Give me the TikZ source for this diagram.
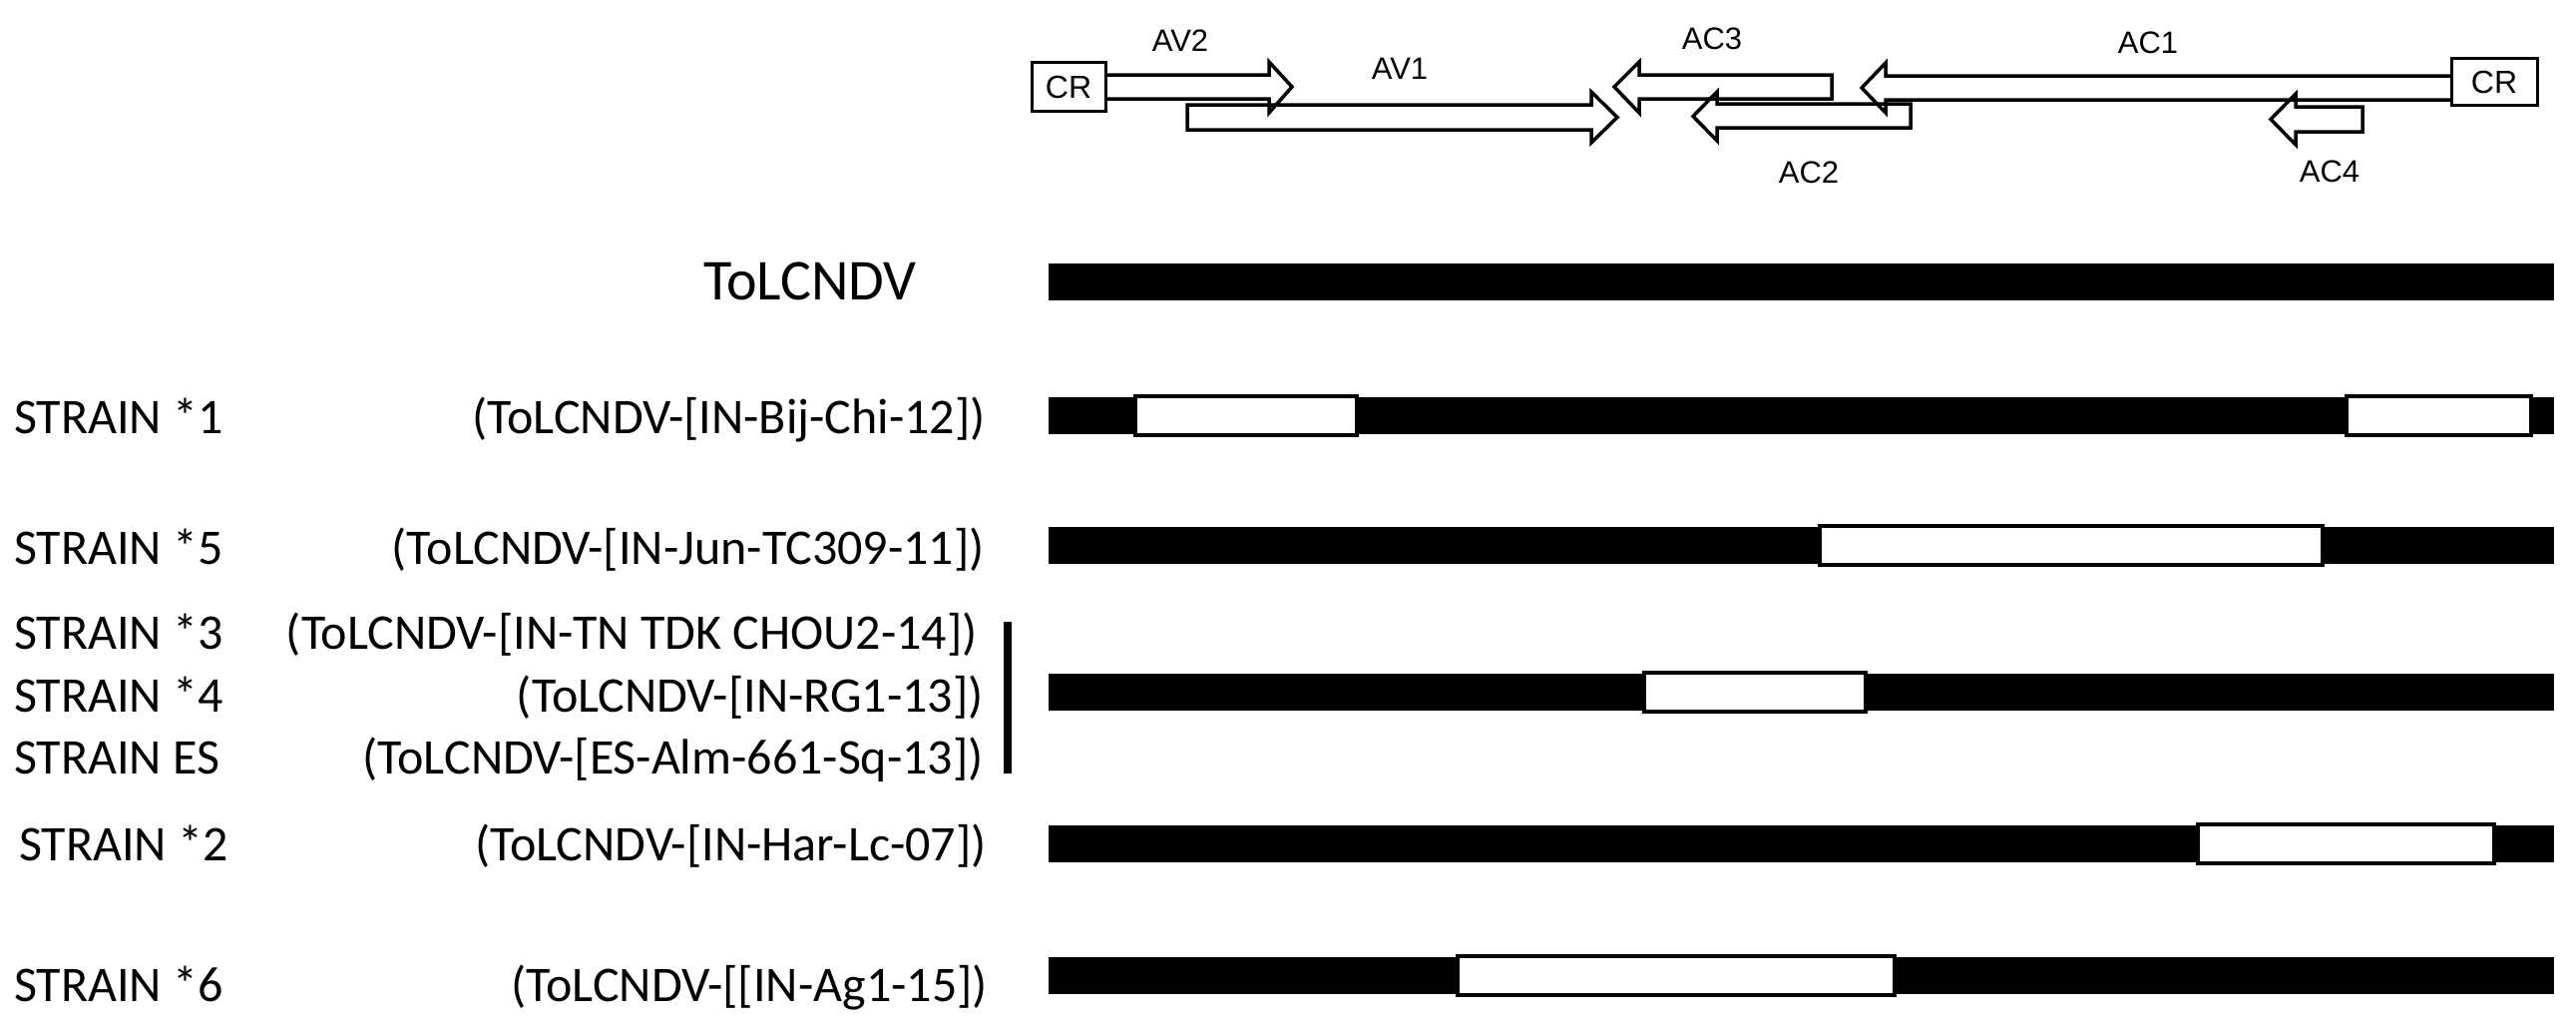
\documentclass[tikz,border=0pt]{standalone}
\usepackage{fontspec}
\setmainfont{Carlito}
\newfontfamily\arialf{Liberation Sans}
\begin{document}
\begin{tikzpicture}[x=1pt,y=-1pt,
  bar/.style={fill=black},
  gapbox/.style={fill=white,draw=black,line width=4pt},
  gene/.style={draw=black,line width=3.5pt,line join=miter},
  lbl/.style={font=\fontsize{31}{36}\selectfont\arialf,inner sep=0pt,anchor=base},
  strain/.style={font=\fontsize{50}{60}\selectfont,inner sep=0pt,anchor=base west},
  isolate/.style={font=\fontsize{50}{60}\selectfont,inner sep=0pt,anchor=base east},
  crbox/.style={draw,line width=3pt,inner sep=0pt,font=\fontsize{32}{36}\selectfont\arialf}]
\useasboundingbox (0,0) rectangle (2582,1033);

% ---------- genome map ----------
\node[crbox,minimum width=74pt,minimum height=48pt] (crL) at (1071,87) {CR};
\node[crbox,minimum width=86pt,minimum height=46pt] (crR) at (2500,82) {CR};

\draw[gene] (1108,75) -- (1272,75) -- (1272,62) -- (1295,87) -- (1272,113) -- (1272,99) -- (1108,99);
\draw[gene] (1190,105) -- (1595,105) -- (1595,92) -- (1621,117.5) -- (1595,143) -- (1595,130) -- (1190,130) -- cycle;
\draw[gene] (1836,75) -- (1643,75) -- (1643,62) -- (1618,87) -- (1643,113) -- (1643,99) -- (1836,99) -- cycle;
\draw[gene] (1915,104) -- (1721,104) -- (1721,92) -- (1697,116.5) -- (1721,141) -- (1721,128) -- (1915,128) -- cycle;
\draw[gene] (2457,76) -- (1890,76) -- (1890,63) -- (1866,88) -- (1890,113) -- (1890,100) -- (2457,100);
\draw[gene] (2368,107) -- (2301,107) -- (2301,94) -- (2276,119.5) -- (2301,145) -- (2301,132) -- (2368,132) -- cycle;

\node[lbl] (lav2) at (1183,52) {AV2};
\node[lbl] (lav1) at (1403,80) {AV1};
\node[lbl] (lac3) at (1716,50) {AC3};
\node[lbl] (lac1) at (2153,53) {AC1};
\node[lbl] (lac2) at (1813,183) {AC2};
\node[lbl] (lac4) at (2335,182) {AC4};

% ---------- labels ----------
\node[font=\fontsize{58}{66}\selectfont,inner sep=0pt,anchor=base east] (ref) at (919,300) {ToLCNDV};

\node[strain] (s1) at (14,434) {STRAIN *1};
\node[isolate] (i1) at (988,434) {(ToLCNDV-[IN-Bij-Chi-12])};
\node[strain] (s5) at (14,565) {STRAIN *5};
\node[isolate] (i5) at (987,565) {(ToLCNDV-[IN-Jun-TC309-11])};
\node[strain] (s3) at (14,650) {STRAIN *3};
\node[isolate] (i3) at (980,650) {(ToLCNDV-[IN-TN TDK CHOU2-14])};
\node[strain] (s4) at (14,713) {STRAIN *4};
\node[isolate] (i4) at (986,713) {(ToLCNDV-[IN-RG1-13])};
\node[strain] (ses) at (14,775) {STRAIN ES};
\node[isolate] (ies) at (986,775) {(ToLCNDV-[ES-Alm-661-Sq-13])};
\node[strain] (s2) at (19,862) {STRAIN *2};
\node[isolate] (i2) at (989,862) {(ToLCNDV-[IN-Har-Lc-07])};
\node[strain] (s6) at (14,1003) {STRAIN *6};
\node[isolate] (i6) at (990,1003) {(ToLCNDV-[[IN-Ag1-15])};

\coordinate (vt) at (1010,623);
\coordinate (vb) at (1010,775);
\draw[line width=8pt] (vt) -- (vb);

% ---------- bars ----------
\fill[bar] (1051,264) rectangle (2560,301);

\fill[bar] (1051,398) rectangle (2560,435);
\draw[gapbox] (1138,397) rectangle (1360,436);
\draw[gapbox] (2352,397) rectangle (2537,436);

\fill[bar] (1051,528) rectangle (2560,565);
\draw[gapbox] (1824,527) rectangle (2328,566);

\fill[bar] (1051,675) rectangle (2560,712);
\draw[gapbox] (1648,674) rectangle (1870,713);

\fill[bar] (1051,827) rectangle (2560,864);
\draw[gapbox] (2203,826) rectangle (2500,865);

\fill[bar] (1051,959) rectangle (2560,996);
\draw[gapbox] (1461,958) rectangle (1899,997);
\end{tikzpicture}
\end{document}
